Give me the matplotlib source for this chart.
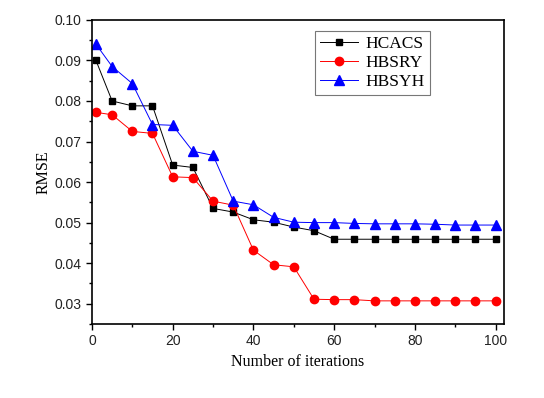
import matplotlib.pyplot as plt
from matplotlib.ticker import MultipleLocator

iteraciones = [1, 5, 10, 15, 20, 25, 30, 35, 40, 45, 50, 55, 60, 65, 70, 75, 80, 85, 90, 95, 100]

hcacs = [0.0900, 0.0800, 0.0788, 0.0788, 0.0642, 0.0636, 0.0535, 0.0526, 0.0507, 0.0501,
         0.0489, 0.0480, 0.0459, 0.0459, 0.0459, 0.0459, 0.0459, 0.0459, 0.0459, 0.0459, 0.0459]
hbsry = [0.0772, 0.0766, 0.0725, 0.0720, 0.0613, 0.0611, 0.0553, 0.0543, 0.0432, 0.0396,
         0.0391, 0.0311, 0.0310, 0.0310, 0.0307, 0.0307, 0.0307, 0.0307, 0.0307, 0.0307, 0.0307]
hbsyh = [0.0940, 0.0885, 0.0843, 0.0742, 0.0740, 0.0676, 0.0666, 0.0553, 0.0544, 0.0513,
         0.0501, 0.0500, 0.0500, 0.0498, 0.0497, 0.0497, 0.0497, 0.0496, 0.0494, 0.0494, 0.0494]

fig = plt.figure(figsize=(5.44, 3.98), dpi=100)
ax = fig.add_axes([0.169, 0.186, 0.757, 0.764])

ax.plot(iteraciones, hcacs, color='black', lw=0.7, marker='s', ms=5, label='HCACS')
ax.plot(iteraciones, hbsry, color='red', lw=0.7, marker='o', ms=6, label='HBSRY')
ax.plot(iteraciones, hbsyh, color='blue', lw=0.7, marker='^', ms=6.5, label='HBSYH')

ax.set_xlim(0, 102)
ax.set_ylim(0.025, 0.10)
ax.xaxis.set_major_locator(MultipleLocator(20))
ax.xaxis.set_minor_locator(MultipleLocator(10))
ax.yaxis.set_major_locator(MultipleLocator(0.01))
ax.yaxis.set_minor_locator(MultipleLocator(0.005))
ax.yaxis.set_major_formatter(plt.FormatStrFormatter('%.2f'))

ax.tick_params(which='both', direction='out', top=False, right=False, width=1)
ax.tick_params(which='major', length=4, labelsize=10, labelcolor='#222222')
ax.tick_params(which='minor', length=2.5)
for lab in ax.get_xticklabels() + ax.get_yticklabels():
    lab.set_fontfamily('Liberation Sans')
for s in ax.spines.values():
    s.set_linewidth(1.2)

ax.set_xlabel('Number of iterations', family='Liberation Serif', fontsize=11.5)
ax.set_ylabel('RMSE', family='Liberation Serif', fontsize=11.5, labelpad=2)

leg = ax.legend(loc='upper left', bbox_to_anchor=(0.541, 0.964), borderaxespad=0,
                prop={'family': 'Liberation Serif', 'size': 12.5},
                fancybox=False, edgecolor='#555555', handlelength=2.2, borderpad=0.3,
                labelspacing=0.15, handletextpad=0.4)
leg.get_frame().set_linewidth(0.8)

plt.savefig('out.png', dpi=100)
